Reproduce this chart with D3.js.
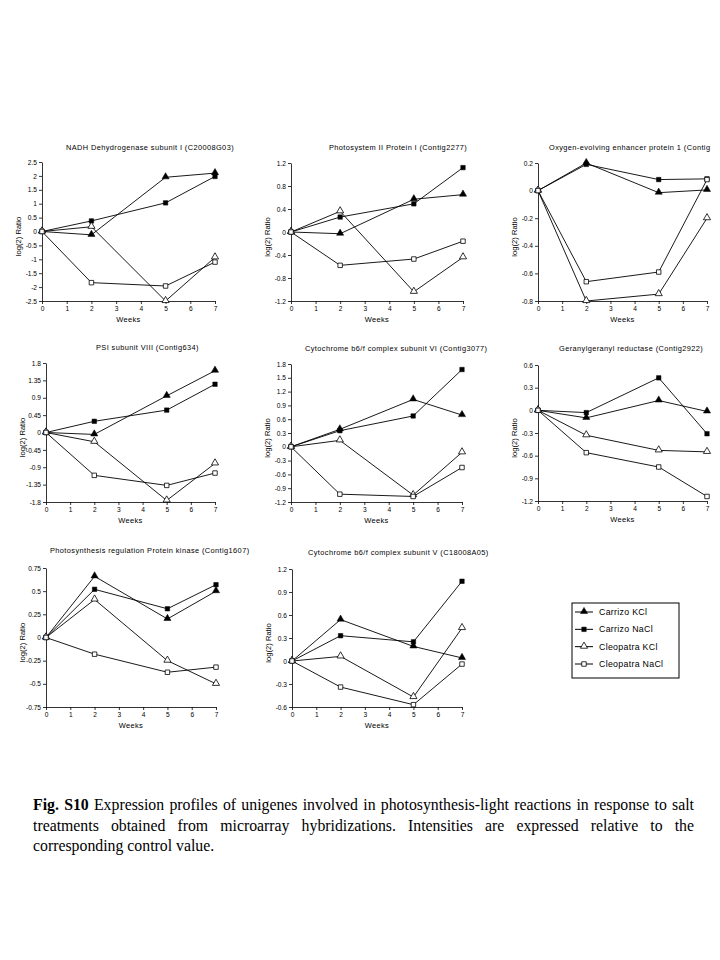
<!DOCTYPE html>
<html>
<head>
<meta charset="utf-8">
<script src="https://cdn.jsdelivr.net/npm/d3@7"></script>
<style>
  body { margin: 0; background: #fff; }
  #wrap { position: relative; width: 720px; height: 960px; overflow: hidden; }
  svg { position: absolute; left: 0; top: 0; }
  .tick text { font-family: "Liberation Sans", Arial, sans-serif; font-size: 6.6px; fill: #000; }
  #caption { position: absolute; left: 33px; top: 795px; width: 661px;
    font-family: "Liberation Serif", "Times New Roman", serif; font-size: 15.8px; line-height: 20.6px; color: #000; }
  #caption div { white-space: nowrap; }
  #caption .j { text-align: justify; text-align-last: justify; }
</style>
</head>
<body>
<div id="wrap">
<div id="chart"></div>
<div id="caption">
  <div class="j"><b>Fig. S10</b> Expression profiles of unigenes involved in photosynthesis-light reactions in response to salt</div>
  <div class="j">treatments obtained from microarray hybridizations. Intensities are expressed relative to the</div>
  <div>corresponding control value.</div>
</div>
</div>
<script>
// weeks of treatment
const weeks = [0, 2, 5, 7];
const xTicks = [0, 1, 2, 3, 4, 5, 6, 7];
const seriesNames = ["Carrizo KCl", "Carrizo NaCl", "Cleopatra KCl", "Cleopatra NaCl"];

const titles = [
  "NADH Dehydrogenase subunit I (C20008G03)",
  "Photosystem II Protein I (Contig2277)",
  "Oxygen-evolving enhancer protein 1 (Contig",
  "PSI subunit VIII (Contig634)",
  "Cytochrome b6/f complex subunit VI (Contig3077)",
  "Geranylgeranyl reductase (Contig2922)",
  "Photosynthesis regulation Protein kinase (Contig1607)",
  "Cytochrome b6/f complex subunit V (C18008A05)"
];

// log2 ratio per series: Carrizo KCl, Carrizo NaCl, Cleopatra KCl, Cleopatra NaCl
const nadh = [
  [0, -0.12, 1.95, 2.1],
  [0, 0.38, 1.03, 1.98],
  [0, 0.17, -2.5, -0.93],
  [0, -1.84, -1.96, -1.1]
];
const psII = [
  [0, -0.03, 0.57, 0.65],
  [0, 0.26, 0.49, 1.12],
  [0, 0.36, -1.04, -0.44],
  [0, -0.58, -0.47, -0.16]
];
const oee1 = [
  [0, 0.2, -0.015, 0.005],
  [0, 0.19, 0.08, 0.085],
  [0, -0.8, -0.75, -0.2],
  [0, -0.66, -0.59, 0.08]
];
const psi8 = [
  [0, -0.05, 0.95, 1.6],
  [0, 0.29, 0.58, 1.25],
  [0, -0.24, -1.76, -0.8],
  [0, -1.11, -1.37, -1.05]
];
const cyt6 = [
  [0, 0.38, 1.03, 0.69],
  [0, 0.35, 0.67, 1.68],
  [0, 0.14, -1.05, -0.12],
  [0, -1.03, -1.08, -0.45]
];
const ggr = [
  [0, -0.1, 0.13, -0.015],
  [0, -0.03, 0.43, -0.31],
  [0, -0.33, -0.53, -0.55],
  [0, -0.56, -0.75, -1.14]
];
const pkin = [
  [0, 0.66, 0.2, 0.5],
  [0, 0.52, 0.31, 0.57],
  [0, 0.41, -0.25, -0.5],
  [0, -0.18, -0.375, -0.32]
];
const cyt5 = [
  [0, 0.54, 0.19, 0.04],
  [0, 0.33, 0.25, 1.04],
  [0, 0.06, -0.47, 0.43],
  [0, -0.34, -0.57, -0.04]
];

// y tick labels of each panel
const nadhTicks = [-2.5, -2, -1.5, -1, -0.5, 0, 0.5, 1, 1.5, 2, 2.5];
const psIITicks = [-1.2, -0.8, -0.4, 0, 0.4, 0.8, 1.2];
const oee1Ticks = [-0.8, -0.6, -0.4, -0.2, 0, 0.2];
const psi8Ticks = [-1.8, -1.35, -0.9, -0.45, 0, 0.45, 0.9, 1.35, 1.8];
const cyt6Ticks = [-1.2, -0.9, -0.6, -0.3, 0, 0.3, 0.6, 0.9, 1.2, 1.5, 1.8];
const ggrTicks = [-1.2, -0.9, -0.6, -0.3, 0, 0.3, 0.6];
const pkinTicks = [-0.75, -0.5, -0.25, 0, 0.25, 0.5, 0.75];
const cyt5Ticks = [-0.6, -0.3, 0, 0.3, 0.6, 0.9, 1.2];

const panelData = [nadh, psII, oee1, psi8, cyt6, ggr, pkin, cyt5];
const panelTicks = [nadhTicks, psIITicks, oee1Ticks, psi8Ticks, cyt6Ticks, ggrTicks, pkinTicks, cyt5Ticks];

// plot boxes on the page: left, right, top, bottom, title x, title y
const boxes = [
  [42, 215, 162, 301, 66, 150],
  [291, 463, 163, 301, 329, 150],
  [538, 707, 163, 301, 549, 150],
  [46, 215, 363, 502, 96, 350],
  [291, 462, 364, 502, 305, 351],
  [538, 707, 365, 501, 559, 351],
  [46, 216, 568, 707, 50, 553],
  [292, 462, 569, 707, 308, 555]
];

const FONT = '"Liberation Sans", Arial, sans-serif';

const svg = d3.select("#chart").append("svg")
  .attr("width", 720).attr("height", 960);

svg.append("rect").attr("width", 720).attr("height", 960).attr("fill", "#fff");

const triangle = d3.symbol().type(d3.symbolTriangle).size(22);
const square = d3.symbol().type(d3.symbolSquare).size(20);

function drawMarker(g, k, x, y) {
  let path = (k % 2 == 0) ? triangle() : square();
  g.append("path")
    .attr("d", path)
    .attr("transform", "translate(" + x + "," + (k % 2 == 0 ? y - 0.5 : y) + ")")
    .attr("fill", k < 2 ? "#000" : "#fff")
    .attr("stroke", "#000")
    .attr("stroke-width", k < 2 ? 0.5 : 0.8);
}

function fmt(v) {
  return String(+v.toFixed(2));
}

boxes.forEach(function (b, p) {
  let data = panelData[p],
      ticks = panelTicks[p];
  let x = d3.scaleLinear().domain([0, 7]).range([b[0], b[1]]);
  let y = d3.scaleLinear().domain([ticks[0], ticks[ticks.length - 1]]).range([b[3], b[2]]);
  let g = svg.append("g");

  g.append("g")
    .attr("transform", "translate(0," + b[3] + ")")
    .call(d3.axisBottom(x).tickValues(xTicks).tickSize(3).tickSizeOuter(0).tickPadding(2).tickFormat(d3.format("d")))
    .call(a => a.selectAll("line,path").attr("stroke", "#000").attr("stroke-width", 0.8));

  g.append("g")
    .attr("transform", "translate(" + b[0] + ",0)")
    .call(d3.axisLeft(y).tickValues(ticks).tickSize(3).tickSizeOuter(0).tickPadding(2).tickFormat(fmt))
    .call(a => a.selectAll("line,path").attr("stroke", "#000").attr("stroke-width", 0.8));

  g.selectAll(".tick text").attr("font-family", null).attr("font-size", null);

  g.append("text")
    .attr("x", b[4]).attr("y", b[5])
    .attr("font-family", FONT).attr("font-size", 7.4).attr("letter-spacing", 0.4)
    .text(titles[p]);

  g.append("text")
    .attr("x", (b[0] + b[1]) / 2).attr("y", b[3] + 21)
    .attr("text-anchor", "middle")
    .attr("font-family", FONT).attr("font-size", 7.5).attr("letter-spacing", 0.3)
    .text("Weeks");

  g.append("text")
    .attr("transform", "translate(" + (b[0] - 21) + "," + ((b[2] + b[3]) / 2 + 5) + ") rotate(-90)")
    .attr("text-anchor", "middle")
    .attr("font-family", FONT).attr("font-size", 7.6)
    .text("log(2) Ratio");

  let line = d3.line().x((d, i) => x(weeks[i])).y(d => y(d));

  data.forEach(function (s, k) {
    g.append("path")
      .attr("d", line(s))
      .attr("fill", "none")
      .attr("stroke", "#000")
      .attr("stroke-width", 0.9);
  });
  data.forEach(function (s, k) {
    s.forEach(function (v, i) {
      drawMarker(g, k, x(weeks[i]), y(v));
    });
  });
});

// legend
let leg = svg.append("g");
leg.append("rect")
  .attr("x", 572).attr("y", 603).attr("width", 107).attr("height", 75)
  .attr("fill", "#fff").attr("stroke", "#000").attr("stroke-width", 1);

let legY = d3.scalePoint().domain(seriesNames).range([612, 664]);
seriesNames.forEach(function (name, k) {
  let yy = legY(name);
  leg.append("line")
    .attr("x1", 575).attr("x2", 593).attr("y1", yy).attr("y2", yy)
    .attr("stroke", "#000").attr("stroke-width", 1);
  drawMarker(leg, k, 584, yy);
  leg.append("text")
    .attr("x", 599).attr("y", yy + 3)
    .attr("font-family", FONT).attr("font-size", 8.8).attr("letter-spacing", 0.3)
    .text(name);
});
</script>
</body>
</html>
